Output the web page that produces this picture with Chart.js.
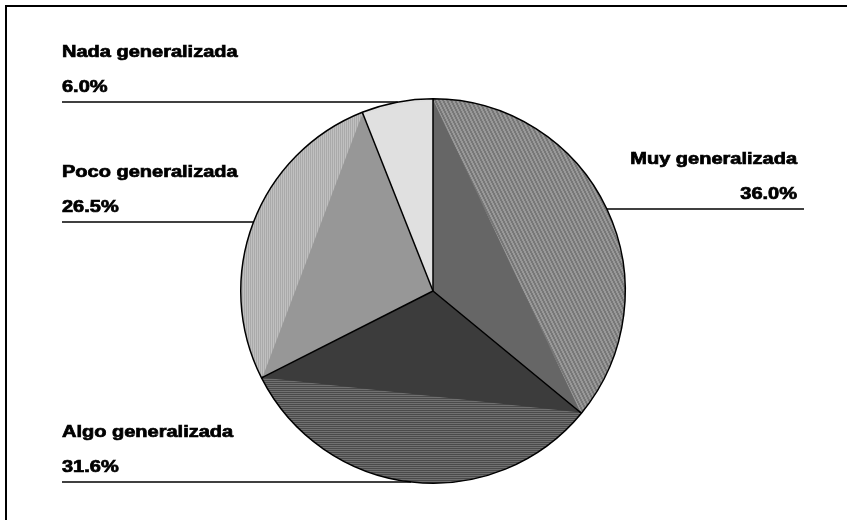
<!DOCTYPE html>
<html>
<head>
<meta charset="utf-8">
<script src="https://cdn.jsdelivr.net/npm/chart.js@4.4.0/dist/chart.umd.min.js"></script>
<style>
html, body { margin: 0; padding: 0; background: #fff; }
#wrap { width: 847px; height: 520px; }
</style>
</head>
<body>
<div id="wrap"><canvas id="pie" width="847" height="520"></canvas></div>
<script>
// data
var categories = ['Muy generalizada', 'Algo generalizada', 'Poco generalizada', 'Nada generalizada'];
var values = [36.0, 31.6, 26.5, 6.0];

// styling
var innerShades = ['#666666', '#3c3c3c', '#979797', '#e0e0e0'];
var hatchA = ['#777777', '#4a4a4a', '#aaaaaa', '#dedede'];
var hatchB = ['#989898', '#707070', '#c0c0c0', '#dedede'];
var hatchDir = ['d', 'h', 'v', 'h'];
var labelSide = ['right', 'left', 'left', 'left'];
var labelLineY = [209, 482, 222, 102];

function hatch(a, b, dir) {
    var c = document.createElement('canvas');
    c.width = 4; c.height = 8;
    var g = c.getContext('2d');
    for (var x = 0; x < 4; x++) {
        for (var y = 0; y < 8; y++) {
            var on;
            if (dir === 'h') on = (y % 2) === 0;
            else if (dir === 'v') on = (x % 2) === 0;
            else on = (((2 * x - y) % 8) + 8) % 8 < 4;
            g.fillStyle = on ? a : b;
            g.fillRect(x, y, 1, 1);
        }
    }
    return g.createPattern(c, 'repeat');
}

var fills = [];
for (var i = 0; i < values.length; i++) {
    fills.push(hatch(hatchA[i], hatchB[i], hatchDir[i]));
}

var frame = {
    id: 'frame',
    beforeDraw: function (chart) {
        var ctx = chart.ctx;
        ctx.save();
        ctx.fillStyle = '#fff';
        ctx.fillRect(0, 0, chart.width, chart.height);
        ctx.strokeStyle = '#000';
        ctx.lineWidth = 2;
        ctx.beginPath();
        ctx.moveTo(6, chart.height);
        ctx.lineTo(6, 6);
        ctx.lineTo(chart.width, 6);
        ctx.stroke();
        ctx.restore();
    }
};

var shading = {
    id: 'shading',
    afterDatasetsDraw: function (chart) {
        var ctx = chart.ctx;
        var arcs = chart.getDatasetMeta(0).data;
        ctx.save();
        arcs.forEach(function (arc, i) {
            var p = arc.getProps(['x', 'y', 'startAngle', 'endAngle', 'outerRadius'], true);
            var r = p.outerRadius - 1;
            ctx.beginPath();
            ctx.moveTo(p.x, p.y);
            ctx.lineTo(p.x + r * Math.cos(p.startAngle), p.y + r * Math.sin(p.startAngle));
            ctx.lineTo(p.x + r * Math.cos(p.endAngle), p.y + r * Math.sin(p.endAngle));
            ctx.closePath();
            ctx.fillStyle = innerShades[i];
            ctx.fill();
        });
        ctx.strokeStyle = '#000';
        ctx.lineWidth = 1.5;
        arcs.forEach(function (arc) {
            var p = arc.getProps(['x', 'y', 'startAngle', 'outerRadius'], true);
            ctx.beginPath();
            ctx.moveTo(p.x, p.y);
            ctx.lineTo(p.x + p.outerRadius * Math.cos(p.startAngle), p.y + p.outerRadius * Math.sin(p.startAngle));
            ctx.stroke();
        });
        ctx.restore();
    }
};

var labels = {
    id: 'labels',
    afterDraw: function (chart) {
        var ctx = chart.ctx;
        var arcs = chart.getDatasetMeta(0).data;
        ctx.save();
        ctx.fillStyle = '#000';
        ctx.strokeStyle = '#000';
        ctx.font = 'bold 16px "Liberation Sans", Arial, sans-serif';
        arcs.forEach(function (arc, i) {
            var p = arc.getProps(['x', 'y', 'outerRadius'], true);
            var ly = labelLineY[i];
            var dy = ly - p.y;
            var dx = Math.sqrt(Math.max(p.outerRadius * p.outerRadius - dy * dy, 0));
            var right = labelSide[i] === 'right';
            var x0 = right ? p.x + dx : 62;
            var x1 = right ? 804 : p.x - dx;
            ctx.lineWidth = 1.4;
            ctx.beginPath();
            ctx.moveTo(x0, ly);
            ctx.lineTo(x1, ly);
            ctx.stroke();
            var tx = right ? 797 : 62;
            ctx.textAlign = right ? 'right' : 'left';
            ctx.textBaseline = 'alphabetic';
            [[categories[i], ly - 45], [values[i].toFixed(1) + '%', ly - 10]].forEach(function (t) {
                ctx.save();
                ctx.translate(tx, t[1]);
                ctx.scale(1.25, 1);
                ctx.lineWidth = 0.7;
                ctx.fillText(t[0], 0, 0);
                ctx.strokeText(t[0], 0, 0);
                ctx.restore();
            });
        });
        ctx.restore();
    }
};

new Chart(document.getElementById('pie'), {
    type: 'pie',
    data: {
        labels: categories,
        datasets: [{
            data: values,
            backgroundColor: fills,
            borderColor: '#000',
            borderWidth: 1.5
        }]
    },
    options: {
        responsive: false,
        animation: false,
        layout: { padding: { top: 98, bottom: 36, left: 100, right: 81 } },
        plugins: {
            legend: { display: false },
            tooltip: { enabled: false }
        }
    },
    plugins: [frame, shading, labels]
});
</script>
</body>
</html>
